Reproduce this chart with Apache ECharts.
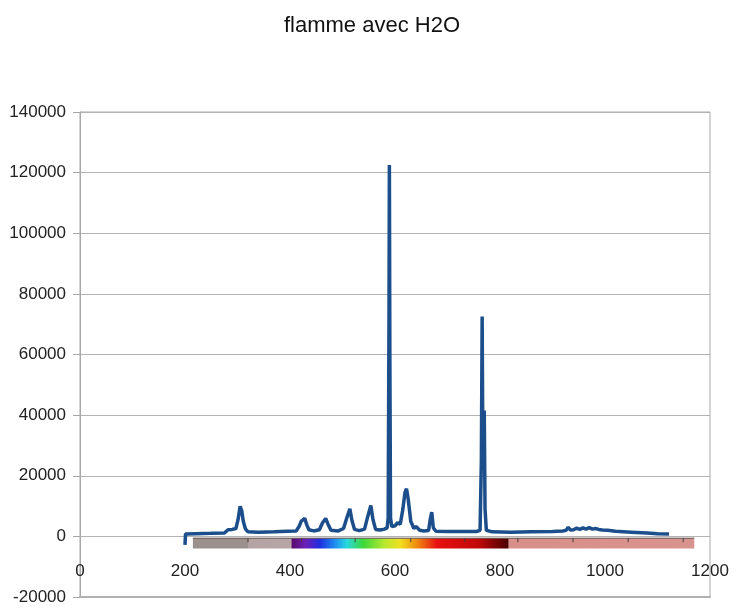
<!DOCTYPE html>
<html>
<head>
<meta charset="utf-8">
<title>flamme avec H2O</title>
<script src="https://cdn.jsdelivr.net/npm/echarts@6/dist/echarts.min.js"></script>
<style>
  html, body { margin: 0; padding: 0; background: #fff; }
  #chart { width: 744px; height: 609px; }
</style>
</head>
<body>
<div id="chart"></div>
<script>
// spectre (longueur d'onde en nm / intensite)
const wavelengths = [
  200, 201, 220, 250, 275, 282, 290, 297, 301, 305, 308, 311, 315, 320, 340, 370, 395, 412,
  418, 421, 424, 428, 432, 436, 445, 456, 462, 468, 472, 478, 492, 502, 508, 514, 518, 523,
  532, 542, 548, 554, 558, 563, 572, 580, 585, 587, 588.5, 589.3, 590.2, 591.5, 594, 600,
  605, 610, 615, 619, 622, 625, 630, 636, 640, 643, 647, 655, 664, 667, 670, 673, 678, 700,
  730, 755, 762, 764.5, 766, 767.3, 768.5, 770, 771.5, 774, 785, 820, 860, 900, 920, 926,
  930, 934, 940, 946, 952, 958, 964, 970, 976, 982, 988, 995, 1005, 1020, 1050, 1080, 1100, 1122
];
const counts = [
  -2800, 800, 900, 1000, 1100, 2200, 2300, 2600, 5500, 9900, 8500, 5000, 2500, 1500, 1400, 1500, 1700, 1800,
  3500, 4900, 4700, 6000, 3800, 2200, 1800, 2200, 4500, 5900, 4200, 2000, 1800, 2600, 6000, 9100, 5200, 2300,
  1900, 2400, 6500, 10200, 5600, 2300, 2100, 2400, 2800, 6000, 70000, 122500, 60000, 6000, 3200, 3500,
  4500, 4000, 9000, 14500, 15700, 12500, 5000, 2600, 3300, 3000, 2000, 1800, 1900, 5500, 8000, 2800, 1700, 1600,
  1600, 1600, 2000, 25000, 72500, 30000, 22000, 41500, 9000, 2000, 1500, 1400, 1500, 1600, 1800, 2000,
  3000, 2100, 2200, 2700, 2300, 2800, 2400, 2900, 2400, 2600, 2300, 2100, 2000, 1700, 1400, 1100, 900, 780
];

// bande de couleur du spectre sous la courbe
const bandNm = [215, 320, 321, 402, 404, 430, 457, 485, 508, 539, 580, 610, 642, 680, 760, 815, 817, 1170];
const bandColors = [
  '#9b918c', '#9b918c', '#b5a2a4', '#b8a5a8', '#5a0a6e', '#6a1fb8', '#1f2fe0', '#1e8cf0', '#28d8e0',
  '#3ad83a', '#b8e830', '#f0e020', '#f08a10', '#e81010', '#c00808', '#4a0000', '#d88f8a', '#d9938e'
];
const bandTicks = [320, 422, 524, 630, 733, 834, 939, 1044, 1149];

const yMin = -20000;
const yMax = 140000;

const font = "'Liberation Sans Narrow', 'Liberation Sans', Arial, sans-serif";

const gridTop = 112;
const gridBottom = 12;
const gridHeight = 609 - gridTop - gridBottom;
// l'axe des x est trace a y = 0
const xAxisOffset = -gridHeight * (0 - yMin) / (yMax - yMin);

const chart = echarts.init(document.getElementById('chart'));

function renderBand(params, api) {
  const first = bandNm[0];
  const last = bandNm[bandNm.length - 1];
  const p0 = api.coord([first, -600]);
  const p1 = api.coord([last, -4000]);
  const stops = bandNm.map((nm, i) => ({
    offset: (nm - first) / (last - first),
    color: bandColors[i]
  }));
  const children = [{
    type: 'rect',
    shape: { x: p0[0], y: p0[1], width: p1[0] - p0[0], height: p1[1] - p0[1] },
    style: { fill: new echarts.graphic.LinearGradient(0, 0, 1, 0, stops) }
  }, {
    type: 'line',
    shape: { x1: p0[0], y1: p0[1], x2: p1[0], y2: p0[1] },
    style: { stroke: '#5a4a48', lineWidth: 1 }
  }]
  bandTicks.forEach(nm => {
    const t = api.coord([nm, -600])
    children.push({
      type: 'line',
      shape: { x1: t[0], y1: t[1], x2: t[0], y2: t[1] + 4 },
      style: { stroke: '#4a3a38', lineWidth: 1 }
    })
  })
  return { type: 'group', children: children }
}

chart.setOption({
  animation: false,
  title: {
    text: 'flamme avec H2O',
    left: 'center',
    top: 10,
    textStyle: { fontFamily: font, fontSize: 22, fontWeight: 'normal', color: '#111' }
  },
  grid: {
    left: 80,
    right: 34,
    top: gridTop,
    bottom: gridBottom,
    outerBoundsMode: 'none',
    containLabel: false,
    show: true,
    borderColor: '#a8a8a8',
    borderWidth: 1
  },
  xAxis: [{
    type: 'value',
    min: 0,
    max: 1200,
    interval: 200,
    position: 'bottom',
    offset: xAxisOffset,
    axisLine: { show: true, onZero: false, lineStyle: { color: '#b3b3b3' } },
    axisTick: { show: false },
    splitLine: { show: false },
    axisLabel: { margin: 26, fontFamily: font, fontSize: 17, color: '#222', formatter: v => String(v) }
  }, {
    type: 'value',
    min: 0,
    max: 1200,
    position: 'bottom',
    axisLine: { show: true, onZero: false, lineStyle: { color: '#b0b0b0', width: 2 } },
    axisTick: { show: false },
    axisLabel: { show: false },
    splitLine: { show: false }
  }],
  yAxis: {
    type: 'value',
    min: yMin,
    max: yMax,
    interval: 20000,
    axisLine: { show: true, lineStyle: { color: '#a8a8a8' } },
    axisTick: { show: true, length: 7, lineStyle: { color: '#a8a8a8' } },
    splitLine: { show: true, lineStyle: { color: '#b3b3b3' } },
    axisLabel: { margin: 14, fontFamily: font, fontSize: 17, color: '#222', formatter: v => String(v) }
  },
  series: [
    {
      type: 'custom',
      silent: true,
      renderItem: renderBand,
      data: [[bandNm[0], 0]],
      z: 1
    },
    {
      type: 'line',
      data: wavelengths.map((w, i) => [w, counts[i]]),
      showSymbol: false,
      lineStyle: { color: '#1b4e8b', width: 3.5 },
      itemStyle: { color: '#1b4e8b' },
      z: 3
    }
  ]
})
</script>
</body>
</html>
